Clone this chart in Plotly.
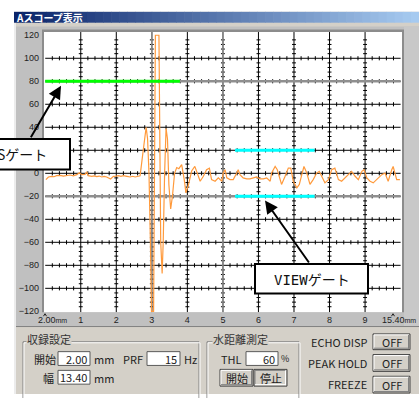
import plotly.graph_objects as go

W, H = 419, 398
JP = "Noto Sans CJK JP"

# ---------------- data (x in divisions: 0 = 2.00 mm, 10 = 15.40 mm; y in %) ----------------
wave_x = [0.02, 0.09, 0.18, 0.25, 0.32, 0.42, 0.51, 0.60, 0.70, 0.79, 0.89, 0.96, 1.03, 1.12, 1.17,
          1.21, 1.31, 1.38, 1.45, 1.52, 1.59, 1.66, 1.73, 1.84, 1.92, 2.00, 2.06, 2.13, 2.20, 2.30,
          2.39, 2.46, 2.53, 2.62, 2.67,
          2.75, 2.84, 2.88, 2.92, 2.96, 2.99, 3.05, 3.08, 3.10, 3.20, 3.22, 3.25, 3.29, 3.32, 3.36,
          3.40, 3.44, 3.48, 3.53, 3.58, 3.64, 3.70, 3.76, 3.84, 3.91, 3.96, 4.03, 4.12, 4.21, 4.30,
          4.36, 4.45, 4.54, 4.62, 4.68, 4.78, 4.87, 4.97, 5.01, 5.06, 5.11, 5.20, 5.29, 5.39, 5.43,
          5.48, 5.57, 5.67, 5.76, 5.86, 5.95, 6.04, 6.14, 6.23, 6.33, 6.37, 6.47, 6.53, 6.61, 6.65,
          6.75, 6.84, 6.91, 6.98, 7.08, 7.15, 7.22, 7.28, 7.36, 7.45, 7.54, 7.64, 7.71, 7.78, 7.87,
          7.97, 8.06, 8.15, 8.25, 8.34, 8.44, 8.53, 8.62, 8.72, 8.81, 8.91, 8.97, 9.05, 9.14, 9.23,
          9.33, 9.47, 9.56, 9.65, 9.75, 9.79, 9.89, 9.98]
wave_y = [-5.5, -3.2, -2.6, -3.0, -2.1, -1.8, -2.4, -2.0, -1.5, -2.3, -1.2, 0.4, -1.2, -1.0, 1.2,
          -2.1, -2.6, -2.2, -2.8, -2.4, -3.2, -2.7, -3.2, -4.9, -2.6, -2.4, -2.1, -2.6, -2.1, -2.7,
          -3.2, -2.6, -3.2, -2.6, -2.1,
          18, 40, 30, 0, -60, -120, -120, 0, 120, 120, 0, -60, -87, -60, 0,
          39, 30, -10, -31, -20, 0, 5, 4, 7.6, -5, -17, -10, 2, 6, -3,
          -6.9, -2.6, 3.1, 4.5, -5.5, -6.9, -4.0, -6.9, 0.2, 3.1, -4.0, -5.5, -5.5, 0.2, 3.1,
          -1.2, -4.0, -4.9, -4.9, -4.0, -3.2, -4.9, -4.9, -4.0, -6.9, 0.2, 5.9, 3.1, -6.9, -9.7,
          -2.6, 4.5, 4.5, -6.9, -12.6, -9.7, -1.2, 5.9, 0.2, -9.7, -5.5, 0.2, 1.7, -2.6, -8.3,
          -5.5, 3.1, 4.5, -5.5, -6.9, -4.0, -1.2, 1.7, -2.6, -5.5, 1.7, 3.1, -4.0, -6.9, -8.3,
          -5.5, -1.2, 0.2, -6.9, 3.1, 5.9, -5.5, -5.5]

s_gate_x = [0.0, 3.79]
s_gate_level = 80
view_gate_x = [5.34, 7.58]
view_gate_levels = [20, -20]
level_lines = [80, -20]
marker_divs = [3, 5]

y_tick_vals = list(range(-120, 121, 20))
# the "20" label sits under the S-gate callout box in the reference, so it is not shown
y_tick_text = ["" if v == 20 else str(v).replace("-", "\u2212") for v in y_tick_vals]
x_tick_vals = list(range(1, 10))
x_tick_text = [str(v) for v in x_tick_vals]
range_start = "2.00"
range_end = "15.40"

window_title = "Aスコープ表示"
s_gate_label = "Sゲート"
view_gate_label = "VIEWゲート"

X_RANGE = [-0.034, 10.039]
Y_RANGE = [-120.8, 122.8]

# ---------------- helpers ----------------
shapes, annots = [], []


def rect(x0, y0, x1, y1, fill=None, line=None, lw=1, layer="below"):
    shapes.append(dict(type="rect", xref="paper", yref="paper",
                       x0=x0 / W, x1=x1 / W, y0=1 - y1 / H, y1=1 - y0 / H,
                       fillcolor=fill or "rgba(0,0,0,0)",
                       line=dict(color=line or "rgba(0,0,0,0)", width=lw if line else 0),
                       layer=layer))


def seg(x0, y0, x1, y1, color, lw=1, layer="below"):
    shapes.append(dict(type="line", xref="paper", yref="paper",
                       x0=x0 / W, x1=x1 / W, y0=1 - y0 / H, y1=1 - y1 / H,
                       line=dict(color=color, width=lw), layer=layer))


def text(px, py, s, size=11, color="#222", anchor="left", family=JP, bg=None):
    annots.append(dict(xref="paper", yref="paper", x=px / W, y=1 - py / H, text=s,
                       showarrow=False, xanchor=anchor, yanchor="middle",
                       font=dict(size=size, color=color, family=family),
                       bgcolor=bg or "rgba(0,0,0,0)", borderpad=0))


def textbox(x0, y0, x1, y1, s):
    rect(x0, y0, x1, y1, fill="white", line="#5a5a5a")
    text(x1 - 2, (y0 + y1) / 2, s, size=11, anchor="right")


def button(x0, y0, x1, y1, s, pressed=False):
    rect(x0, y0, x1, y1, fill="#d4d0c8", line="#404040")
    hi, lo = ("#808080", "#ffffff") if pressed else ("#ffffff", "#808080")
    seg(x0 + 1, y0 + 1, x1 - 1, y0 + 1, hi)
    seg(x0 + 1, y0 + 1, x0 + 1, y1 - 1, hi)
    seg(x0 + 1, y1 - 1.5, x1 - 1, y1 - 1.5, lo)
    seg(x1 - 1.5, y0 + 1, x1 - 1.5, y1 - 1, lo)
    text((x0 + x1) / 2, (y0 + y1) / 2, s, size=11, anchor="center")


def groupbox(x0, y0, x1, y1, title, tx):
    rect(x0, y0, x1, y1, line="#808080")
    rect(x0 + 1, y0 + 1, x1 + 1, y1 + 1, line="#ffffff")
    text(tx, y0 - 2.5, title, size=11, color="#333", bg="#d4d0c8")


# ---------------- window chrome ----------------
rect(14, 10, 419, 398, fill="#d4d0c8")
rect(14, 21, 16, 398, fill="#ececec")
c0, c1 = (10, 36, 106), (166, 202, 240)
n = 50
for i in range(n):
    t = i / (n - 1)
    col = "rgb(%d,%d,%d)" % tuple(round(a + (b - a) * t) for a, b in zip(c0, c1))
    xa = 14 + (419 - 14) * i / n
    xb = 14 + (419 - 14) * (i + 1) / n + 0.6
    rect(xa, 10, xb, 21, fill=col)
text(15, 15.5, "<b>" + window_title + "</b>", size=10, color="white")

# scope panel
rect(16, 25, 419, 329, fill="#c0c0c0")
rect(404, 25, 419, 329, fill="#c8c8c8")
seg(16, 329.5, 419, 329.5, "#808080", 1)
rect(42, 28, 404, 315, fill="#8c8c8c")
rect(44, 30.5, 402, 315, fill="white")

# axis end labels with small carets
text(37, 323, range_start + "<span style='font-size:7px'>mm</span>", size=9,
     family="Liberation Sans", color="#222")
text(381, 323, range_end + "<span style='font-size:7px'>mm</span>", size=9,
     family="Liberation Sans", color="#222")
for cx in (45, 393):
    shapes.append(dict(type="path", xref="paper", yref="paper",
                       path="M %f %f L %f %f L %f %f" % ((cx - 1.5) / W, 1 - 319 / H, cx / W,
                                                        1 - 316.5 / H, (cx + 1.5) / W, 1 - 319 / H),
                       line=dict(color="#222", width=1), layer="below"))

# ---------------- bottom control panel ----------------
groupbox(23, 345, 199, 405, "収録設定", 26)
text(33, 362, "開始", size=11)
textbox(58, 355, 90, 369, "2.00")
text(93, 362, "mm", size=11)
text(122, 362, "PRF", size=11)
textbox(147, 355, 180, 369, "15")
text(183, 362, "Hz", size=11)
text(42, 381.5, "幅", size=11)
textbox(58, 374, 90, 388, "13.40")
text(93, 381.5, "mm", size=11)

groupbox(207, 345, 299, 405, "水距離測定", 212)
text(220, 362, "THL", size=11)
textbox(246, 355, 278, 369, "60")
text(280, 362, "%", size=9)
button(220, 373, 253, 390, "開始")
button(254, 373, 287, 390, "停止", pressed=True)

text(368, 345, "ECHO DISP", size=11, anchor="right")
button(373, 337, 410, 353, "OFF")
text(368, 366.5, "PEAK HOLD", size=11, anchor="right")
button(373, 358, 410, 375, "OFF")
text(368, 388, "FREEZE", size=11, anchor="right")
button(373, 380, 410, 397, "OFF")

# ---------------- callout boxes ----------------
rect(-14, 139, 70, 170, fill="white", line="black", lw=2, layer="above")
text(-4, 154.5, s_gate_label, size=14, color="#111")
rect(255, 266, 368, 296, fill="white", line="black", lw=2, layer="above")
text(311.5, 281, "<span style='font-family:DejaVu Sans Mono'>VIEW</span>ゲート",
     size=14, color="#111", anchor="center")

for hx, hy, tx, ty in [(61, 85, 30, 138), (265, 201.5, 310, 265)]:
    annots.append(dict(xref="paper", yref="paper", x=hx / W, y=1 - hy / H, text="",
                       showarrow=True, arrowhead=2, arrowsize=1.3, arrowwidth=2,
                       arrowcolor="black", ax=tx - hx, ay=ty - hy))

# ---------------- grid with minor ticks ----------------
gx, gy = [], []
for v in range(-100, 101, 20):
    gx += [0, 10, None]
    gy += [v, v, None]
for d in range(1, 10):
    gx += [d, d, None]
    gy += [Y_RANGE[0], Y_RANGE[1], None]
for v in range(-100, 101, 20):
    for k in range(1, 50):
        if k % 5:
            gx += [k * 0.2, k * 0.2, None]
            gy += [v - 1.8, v + 1.8, None]
for d in range(1, 10):
    for k in range(-29, 30):
        if k % 5:
            gx += [d - 0.055, d + 0.055, None]
            gy += [k * 4, k * 4, None]

fig = go.Figure()
fig.add_trace(go.Scatter(x=gx, y=gy, mode="lines", line=dict(color="#000000", width=1),
                         hoverinfo="skip", showlegend=False))
for lv in level_lines:
    fig.add_trace(go.Scatter(x=[0, 10], y=[lv, lv], mode="lines",
                             line=dict(color="#8f8f8f", width=2.5), hoverinfo="skip", showlegend=False))
for d in marker_divs:
    fig.add_trace(go.Scatter(x=[d, d], y=Y_RANGE, mode="lines",
                             line=dict(color="#8f8f8f", width=1.5), hoverinfo="skip", showlegend=False))

fig.add_trace(go.Scatter(x=wave_x, y=wave_y, mode="lines",
                         line=dict(color="#ff9a3c", width=1.2), showlegend=False))

fig.add_trace(go.Scatter(x=s_gate_x, y=[s_gate_level] * 2, mode="lines",
                         line=dict(color="#00ff00", width=3), showlegend=False))
for lv in view_gate_levels:
    fig.add_trace(go.Scatter(x=view_gate_x, y=[lv] * 2, mode="lines",
                             line=dict(color="#00ffff", width=3), showlegend=False))

fig.update_layout(
    width=W, height=H, margin=dict(l=0, r=0, t=0, b=0),
    paper_bgcolor="white", plot_bgcolor="rgba(0,0,0,0)",
    shapes=shapes, annotations=annots, showlegend=False,
    xaxis=dict(domain=[44 / W, 402 / W], range=X_RANGE, tickvals=x_tick_vals, ticktext=x_tick_text,
               showgrid=False, zeroline=False, showline=False, ticks="",
               tickfont=dict(size=9, color="#222", family="Liberation Sans"),
               ticklabelstandoff=1, fixedrange=True),
    yaxis=dict(domain=[1 - 315 / H, 1 - 30.5 / H], range=Y_RANGE, tickvals=y_tick_vals,
               ticktext=y_tick_text, showgrid=False, zeroline=False, showline=False, ticks="",
               tickfont=dict(size=9, color="#222", family="Liberation Sans"),
               ticklabelstandoff=4, fixedrange=True),
)

fig.write_html("out.html", config={"displayModeBar": False},
               post_script="document.body.style.margin='0';document.body.style.overflow='hidden';")
